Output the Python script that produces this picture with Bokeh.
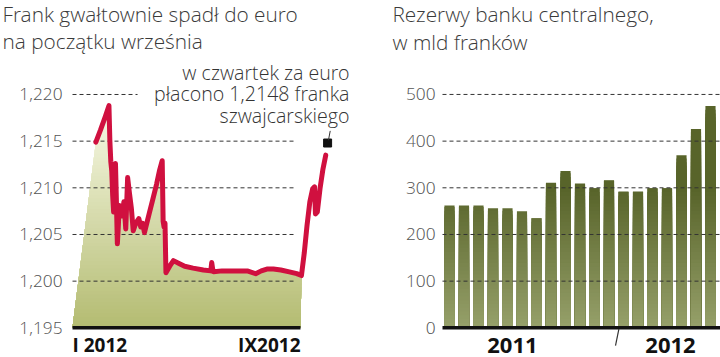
import numpy as np
from bokeh.plotting import figure
from bokeh.layouts import row
from bokeh.models import Range1d, Label
from bokeh.embed import file_html
from bokeh.resources import INLINE

# ---------------- data: EUR/CHF (left) ----------------
rate_days = [25, 30, 35, 39, 40, 41, 42, 43, 44, 45, 46, 47, 48, 49, 50, 51, 53, 55, 57, 59,
             61, 63, 65, 67, 69, 71, 73, 75, 77, 79, 82, 86, 90, 93, 96, 97, 98, 99, 100, 104,
             108, 114, 120, 129, 140, 148, 149, 150, 151, 160, 170, 180, 187, 196, 202, 208, 215,
             223, 232, 240, 245, 248, 251, 254, 257, 259, 260, 262, 265, 268, 271]
rate_values = [1.2149, 1.2162, 1.2176, 1.2188, 1.2150, 1.2128, 1.2118, 1.2092, 1.2074, 1.2105,
               1.2126, 1.2085, 1.2040, 1.2058, 1.2081, 1.2072, 1.2070, 1.2085, 1.2056, 1.2111,
               1.2094, 1.2078, 1.2054, 1.2060, 1.2064, 1.2067, 1.2058, 1.2062, 1.2052, 1.2060,
               1.2072, 1.2088, 1.2104, 1.2118, 1.2129, 1.2064, 1.2058, 1.2062, 1.2009, 1.2016,
               1.2022, 1.2019, 1.2016, 1.2014, 1.2012, 1.2011, 1.2020, 1.2013, 1.2010, 1.2011,
               1.2011, 1.2011, 1.2011, 1.2008, 1.2011, 1.2013, 1.2013, 1.2012, 1.2010, 1.2008,
               1.2006, 1.2030, 1.2060, 1.2085, 1.2099, 1.2101, 1.2072, 1.2074, 1.2100, 1.2120,
               1.2135]
rate_ticks = [1.195, 1.200, 1.205, 1.210, 1.215, 1.220]
rate_tick_labels = ["1,195", "1,200", "1,205", "1,210", "1,215", "1,220"]
month_days = [0, 244]
month_labels = ["I 2012", "IX2012"]
last_day = [273]
last_rate = [1.2148]
note_lines = ["w czwartek za euro", "płacono 1,2148 franka", "szwajcarskiego"]
title_left = ["Frank gwałtownie spadł do euro", "na początku września"]

# ---------------- data: reserves (right) ----------------
reserves = [262, 262, 262, 256, 256, 250, 235, 311, 336, 309, 299, 316, 292, 292, 299, 299,
            370, 426, 475]
reserve_ticks = [0, 100, 200, 300, 400, 500]
reserve_tick_labels = ["0", "100", "200", "300", "400", "500"]
year_labels = ["2011", "2012"]
title_right = ["Rezerwy banku centralnego,", "w mld franków"]

# ---------------- styling helpers ----------------
FONT = "'Open Sans Light', 'Open Sans'"
BOLD_FONT = "Open Sans"
RED = "#d0103f"


def hex_to_rgb(h):
    h = h.lstrip("#")
    return np.array([int(h[i:i + 2], 16) for i in (0, 2, 4)], dtype=float)


def lerp(c0, c1, f):
    f = min(max(f, 0.0), 1.0)
    c = hex_to_rgb(c0) * (1 - f) + hex_to_rgb(c1) * f
    return "#%02x%02x%02x" % tuple(int(round(v)) for v in c)


def clip_below(xs, ys, t):
    ox, oy = [], []
    n = len(xs)
    for i in range(n):
        x1, y1 = xs[i], ys[i]
        x2, y2 = xs[(i + 1) % n], ys[(i + 1) % n]
        in1, in2 = y1 <= t, y2 <= t
        if in1:
            ox.append(x1); oy.append(y1)
        if in1 != in2:
            f = (t - y1) / (y2 - y1)
            ox.append(x1 + f * (x2 - x1)); oy.append(t)
    return ox, oy


def make_fig(width, xr, yr):
    p = figure(width=width, height=357, x_range=Range1d(*xr), y_range=Range1d(*yr),
               output_backend="svg", toolbar_location=None,
               min_border_left=0, min_border_right=0, min_border_top=0, min_border_bottom=0)
    p.outline_line_color = None
    p.xgrid.visible = False
    p.ygrid.visible = False
    p.xaxis.visible = False
    p.yaxis.visible = False
    p.title.visible = False
    p.background_fill_color = "white"
    p.border_fill_color = "white"
    return p


def add_label(p, text, x, y, x_units="screen", y_units="screen", size="18px", color="#333333",
              align="left", bold=False):
    p.add_layout(Label(x=x, y=y, x_units=x_units, y_units=y_units, text=text,
                       text_font=BOLD_FONT if bold else FONT, text_font_size=size,
                       text_color=color, text_align=align, text_baseline="middle",
                       text_font_style="bold" if bold else "normal"))


# ---------------- left chart ----------------
p1 = make_fig(360, (-77.05, 308.2), (1.19182, 1.23007))

base = rate_ticks[0]
fill_until = 245
fx = [month_days[0]] + [d for d in rate_days if d <= fill_until] + [month_days[1]]
fy = [base] + [v for d, v in zip(rate_days, rate_values) if d <= fill_until] + [base]
top = max(fy)
bands = np.linspace(top, base, 60, endpoint=False)
pxs, pys, pcs = [], [], []
for t in bands:
    cx, cy = clip_below(fx, fy, t)
    if len(cx) >= 3:
        pxs.append(cx); pys.append(cy)
        pcs.append(lerp("#b3bb70", "#f3f5de", (t - base) / 0.022))
p1.patches(pxs, pys, fill_color=pcs, line_color=None)

grid_vals = rate_ticks[1:]
grid_end = [238.6, 238.6, 238.6, 238.6, 69.6]
p1.segment(x0=[month_days[0]] * len(grid_vals), x1=grid_end, y0=grid_vals, y1=grid_vals,
           line_color="#333333", line_width=1, line_dash="4 3")
p1.segment(x0=[month_days[0]], x1=[month_days[1]], y0=[base], y1=[base],
           line_color="#111111", line_width=3.5)

p1.line(rate_days, rate_values, line_color=RED, line_width=5, line_join="round", line_cap="round")
p1.scatter(last_day, last_rate, marker="square", size=8, color="#111111")
p1.segment(x0=[last_day[0] + 0.9], y0=[last_rate[0] + 0.0003], x1=[last_day[0] + 2.8],
           y1=[last_rate[0] + 0.0013], line_color="#333333", line_width=1)

for v, lab in zip(rate_ticks, rate_tick_labels):
    add_label(p1, lab, 62, v, y_units="data", size="17.3px", color="#555555", align="right")
add_label(p1, title_left[0], 2, 344, size="20.8px", color="#3a3a3a")
add_label(p1, title_left[1], 2, 317, size="20.8px", color="#3a3a3a")
for txt, yc in zip(note_lines, [284.6, 263.6, 241.6]):
    add_label(p1, txt, 349, yc, size="19.6px", color="#333333", align="right")
add_label(p1, month_labels[0], month_days[0], 12.5, x_units="data", size="19px",
          color="#111111", align="left", bold=True)
add_label(p1, month_labels[1], month_days[1], 12.5, x_units="data", size="19px",
          color="#111111", align="right", bold=True)

# ---------------- right chart ----------------
p2 = make_fig(360, (-6.138, 18.69), (-63.6, 701.3))

half = 0.35
vmax = max(reserves)
L, R, B, T, C = [], [], [], [], []
for t in np.arange(vmax, 0, -8.0):
    for i, v in enumerate(reserves):
        if v >= t - 8.0:
            L.append(i - half); R.append(i + half); B.append(0); T.append(min(v, t))
            C.append(lerp("#97a16b", "#58642a", t / 300.0))
p2.quad(left=L, right=R, bottom=B, top=T, fill_color=C, line_color=None)

gv = reserve_ticks[1:]
p2.segment(x0=[-0.483] * len(gv), x1=[18.69] * len(gv), y0=gv, y1=gv,
           line_color="#333333", line_width=1, line_dash="4 3")
p2.segment(x0=[-0.483], x1=[18.69], y0=[reserve_ticks[0]], y1=[reserve_ticks[0]],
           line_color="#111111", line_width=3.5)
p2.segment(x0=[11.68], x1=[11.45], y0=[-3], y1=[-38], line_color="#333333", line_width=1.2)

for v, lab in zip(reserve_ticks, reserve_tick_labels):
    add_label(p2, lab, 75, v, y_units="data", size="17.3px", color="#555555", align="right")
add_label(p2, title_right[0], 32, 344, size="20.8px", color="#3a3a3a")
add_label(p2, title_right[1], 32, 316, size="20.8px", color="#3a3a3a")
for txt, xp in zip(year_labels, [4.34, 15.24]):
    add_label(p2, txt, xp, 12.5, x_units="data", size="22px", color="#111111", align="center",
              bold=True)

layout = row(p1, p2)
open("out.html", "w").write(file_html(layout, INLINE))
